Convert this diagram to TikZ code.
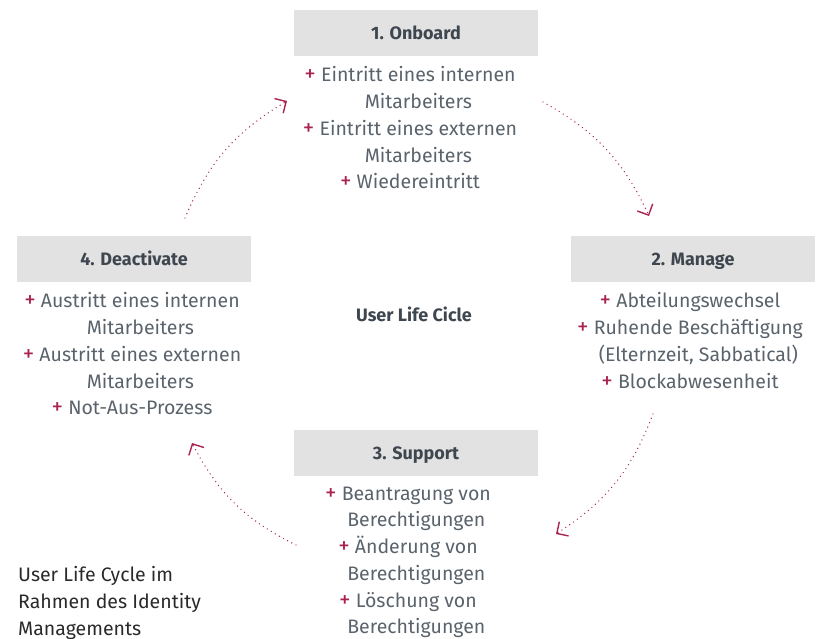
\documentclass[tikz,border=0pt]{standalone}
\usepackage{fontspec}
\setmainfont{Fira Sans}
\usetikzlibrary{arrows.meta}
\definecolor{boxgray}{HTML}{E2E2E2}
\definecolor{txt}{HTML}{5A636B}
\definecolor{ttl}{HTML}{3E474F}
\definecolor{accent}{HTML}{A8244E}
\definecolor{captxt}{HTML}{2A2A2A}
% bullet marker and matching indent for wrapped lines
\newcommand{\pl}{{\color{accent}\fontsize{23}{0}\selectfont +}\ }
\newcommand{\ind}{\phantom{\pl}}
\begin{document}
\begin{tikzpicture}[x=1pt,y=-1pt,
  phase/.style={fill=boxgray, minimum height=46pt, inner sep=0pt,
    text height=13pt, text depth=0pt,
    font=\fontsize{18}{21}\selectfont\bfseries, text=ttl},
  items/.style={align=center, text=txt, inner sep=0pt, anchor=north,
    font=\fontsize{19.5}{26.75}\selectfont},
  flow/.style={accent, line width=1.4pt, line cap=round,
    dash pattern=on 0pt off 4.7pt,
    -{Straight Barb[length=8.5pt,width=17pt,line width=1.4pt]}},
]
\useasboundingbox (0,0) rectangle (816,639);

% phase headers
\node[phase, minimum width=244pt] (onb) at (416,33) {1. Onboard};
\node[phase, minimum width=244pt] (man) at (693,259) {2. Manage};
\node[phase, minimum width=244pt] (sup) at (416,453) {3. Support};
\node[phase, minimum width=234pt] (dea) at (134,259) {4. Deactivate};

% item lists
\node[items] (onbl) at (410,66.5) {\pl Eintritt eines internen\\ \ind Mitarbeiters\\
  \pl Eintritt eines externen\\ \ind Mitarbeiters\\ \pl Wiedereintritt};
\node[items] (manl) at (690,292.5) {\pl Abteilungswechsel\\ \pl Ruhende Beschäftigung\\
  \ind (Elternzeit, Sabbatical)\\ \pl Blockabwesenheit};
\node[items] (deal) at (132,292.5) {\pl Austritt eines internen\\ \ind Mitarbeiters\\
  \pl Austritt eines externen\\ \ind Mitarbeiters\\ \pl Not-Aus-Prozess};
\node[items] (supl) at (408,486.5) {\pl Beantragung von\\ \ind Berechtigungen\\
  \pl Änderung von\\ \ind Berechtigungen\\ \pl Löschung von\\ \ind Berechtigungen};

% centre label and caption
\node[font=\fontsize{18}{21}\selectfont\bfseries, text=ttl] (ctr) at (414,314) {User Life Cicle};
\node[anchor=north west, align=left, inner sep=0pt, text=captxt,
  font=\fontsize{19.5}{26.75}\selectfont] (cap) at (18,566.5)
  {User Life Cycle im\\ Rahmen des Identity\\ Managements};

% cycle arrows
\coordinate (a1) at (543,102);  \coordinate (b1) at (649,216);
\coordinate (a2) at (653,414);  \coordinate (b2) at (556,534);
\coordinate (a3) at (296,545);  \coordinate (b3) at (192,443);
\coordinate (a4) at (185,218);  \coordinate (b4) at (287,101);
\draw[flow] (a1) to[bend left=18] (b1);
\draw[flow] (a2) to[bend left=18] (b2);
\draw[flow] (a3) to[bend left=18] (b3);
\draw[flow] (a4) to[bend left=18] (b4);
\end{tikzpicture}
\end{document}
